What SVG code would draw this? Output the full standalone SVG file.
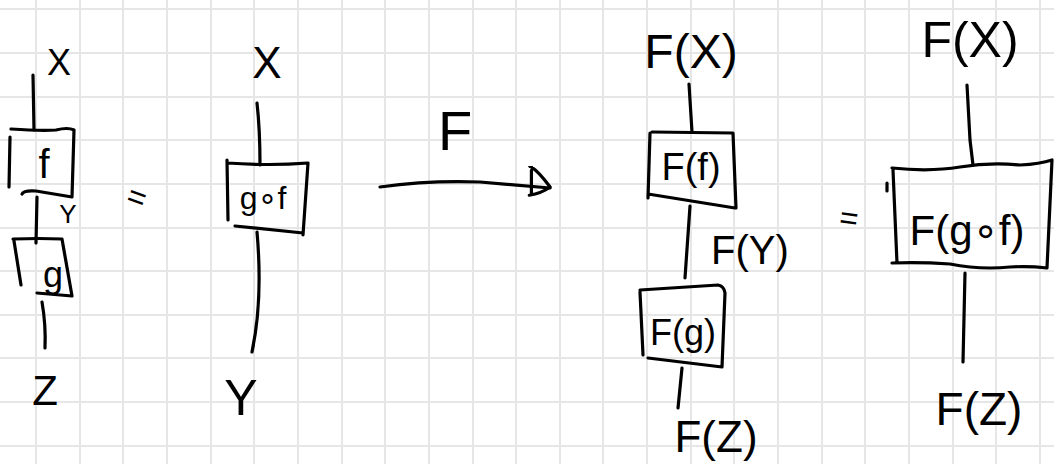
<svg xmlns="http://www.w3.org/2000/svg" width="1054" height="464" viewBox="0 0 1054 464">
<style>
.grid{stroke:#e6e6e6;stroke-width:2;fill:none}
.ink{stroke:#000;stroke-width:3.2;fill:none;stroke-linecap:round;stroke-linejoin:round}
.lbl{font-family:"Liberation Sans","DejaVu Sans",sans-serif;fill:#000;text-anchor:middle;dominant-baseline:central}
</style>
<defs>
<marker id="dhead" markerUnits="userSpaceOnUse" markerWidth="34" markerHeight="40" refX="26" refY="20" orient="auto" viewBox="0 0 34 40">
<path d="M 4 0 Q 12 3 26 19 Q 18 26 6 29 M 6 4 L 8 28" stroke="#000" stroke-width="3.2" fill="none" stroke-linecap="round" stroke-linejoin="round"/>
</marker>
</defs>
<rect width="1054" height="464" fill="#fff"/>
<path class="grid" d="M36 0V464M80 0V464M123 0V464M167 0V464M211 0V464M254 0V464M298 0V464M342 0V464M385 0V464M429 0V464M473 0V464M516 0V464M560 0V464M603 0V464M647 0V464M691 0V464M734 0V464M778 0V464M822 0V464M865 0V464M909 0V464M953 0V464M996 0V464M1040 0V464M0 9H1054M0 53H1054M0 97H1054M0 140H1054M0 184H1054M0 228H1054M0 271H1054M0 315H1054M0 358H1054M0 402H1054M0 446H1054"/>

<g id="connectors">
<path class="ink" d="M 33 75 L 34 130"/>
<path class="ink" d="M 37 197 L 36 243"/>
<path class="ink" d="M 42 302 Q 46 325 45 348"/>
<path class="ink" d="M 257 103 Q 260 130 260 165"/>
<path class="ink" d="M 257 232 Q 263 300 252 352"/>
<path class="ink" d="M 380 187 Q 430 180 480 182 L 550 188" marker-end="url(#dhead)"/>
<path class="ink" d="M 689 84 L 692 132"/>
<path class="ink" d="M 690 206 L 685 278"/>
<path class="ink" d="M 682 368 L 678 408"/>
<path class="ink" d="M 967 85 L 970 140 L 973 165"/>
<path class="ink" d="M 965 273 L 963 362"/>
</g>

<g id="label-x1"><text class="lbl" x="59" y="62" font-size="36">X</text></g>
<g id="box-f">
<path class="ink" d="M 9 187 L 10 137 M 11 129 Q 40 131 56 130 Q 68 127 74 130 L 72 197 M 22 194 Q 24 190 36 191 L 72 197"/>
<text class="lbl" x="44" y="164" font-size="40">f</text>
</g>
<g id="label-y1"><text class="lbl" x="68" y="214" font-size="26">Y</text></g>
<g id="box-g">
<path class="ink" d="M 13 239 Q 40 238 62 239 L 72 296 M 37 293 L 72 296 M 14 241 L 21 285"/>
<text class="lbl" x="53" y="274" font-size="36">g</text>
</g>
<g id="label-z1"><text class="lbl" x="45" y="390" font-size="42">Z</text></g>

<g id="eq1"><text class="lbl" x="137" y="197" font-size="32" transform="rotate(20 137 197)">=</text></g>

<g id="label-x2"><text class="lbl" x="267" y="62" font-size="44">X</text></g>
<g id="box-gf">
<path class="ink" d="M 227 160 L 228 220 M 227 163 Q 270 166 308 163 L 303 235 M 235 226 L 303 233"/>
<text class="lbl" x="263" y="198" font-size="32">g∘f</text>
</g>
<g id="label-y2"><text class="lbl" x="241" y="398" font-size="50">Y</text></g>

<g id="label-F"><text class="lbl" x="455" y="130" font-size="56">F</text></g>

<g id="label-fx3"><text class="lbl" x="691" y="51" font-size="48">F(X)</text></g>
<g id="box-Ff">
<path class="ink" d="M 650 133 L 648 198 M 652 132 L 733 133 L 736 208 M 648 194 L 735 208"/>
<text class="lbl" x="691" y="167" font-size="38">F(f)</text>
</g>
<g id="label-fy"><text class="lbl" x="750" y="250" font-size="40">F(Y)</text></g>
<g id="box-Fg">
<path class="ink" d="M 640 292 L 643 355 M 640 290 L 718 285 Q 724 286 725 293 L 722 367 M 648 358 L 722 367"/>
<text class="lbl" x="683" y="332" font-size="36">F(g)</text>
</g>
<g id="label-fz3"><text class="lbl" x="716" y="436" font-size="44">F(Z)</text></g>

<g id="eq2"><text class="lbl" x="849" y="218" font-size="32" transform="rotate(8 849 218)">=</text></g>

<g id="label-fx4"><text class="lbl" x="970" y="40" font-size="50">F(X)</text></g>
<g id="box-Fgf">
<path class="ink" d="M 892 168 Q 930 172 960 167 Q 990 162 1020 165 Q 1040 164 1052 160 L 1047 268 Q 1030 266 1010 267 Q 980 270 950 264 Q 920 262 892 263 M 893 170 L 897 263 M 887 183 L 887 191"/>
<text class="lbl" x="967" y="230" font-size="42">F(g∘f)</text>
</g>
<g id="label-fz4"><text class="lbl" x="979" y="409" font-size="46">F(Z)</text></g>
</svg>
